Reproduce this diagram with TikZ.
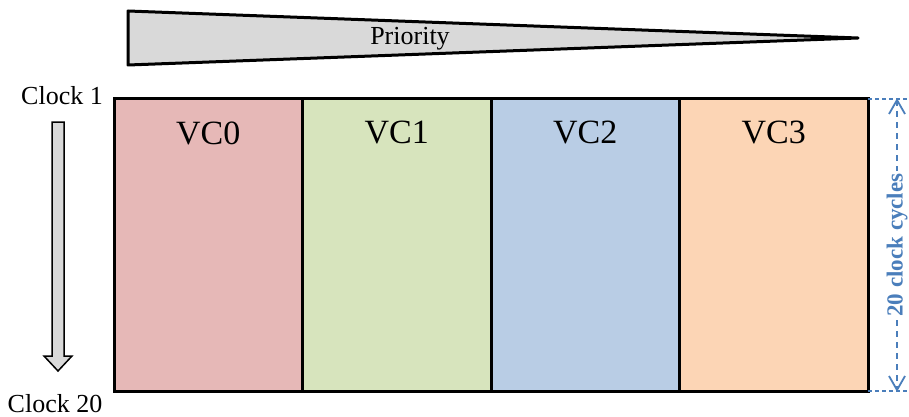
\documentclass[tikz,border=0pt]{standalone}
\usepackage{fontspec}
\setmainfont{Liberation Serif}

\definecolor{vcred}{HTML}{E6B8B7}
\definecolor{vcgreen}{HTML}{D7E4BD}
\definecolor{vcblue}{HTML}{B9CDE5}
\definecolor{vcorange}{HTML}{FCD5B5}
\definecolor{dimblue}{HTML}{4A7EBB}
\definecolor{lgray}{HTML}{D9D9D9}

\tikzset{
  vcbox/.style = {draw, line width=3pt, minimum width=188.5pt, minimum height=292pt,
                  inner sep=0pt, outer sep=0pt, anchor=north west},
  vclabel/.style = {font=\fontsize{34}{34}\selectfont},
  clk/.style = {font=\fontsize{26}{26}\selectfont},
  dimline/.style = {dimblue, line width=1.8pt},
}

\begin{document}
\begin{tikzpicture}[x=1pt, y=-1pt]
\useasboundingbox (0,0) rectangle (909,417);

% priority wedge
\draw[line width=3pt, fill=lgray, line join=round] (128,11) -- (858,38) -- (128,65) -- cycle;
\path (410,39) node[clk] (prio) {Priority};

% the four virtual channels
\path (114,99) node[vcbox, fill=vcred] (vc0) {};
\path (vc0.north east) node[vcbox, fill=vcgreen] (vc1) {};
\path (vc1.north east) node[vcbox, fill=vcblue] (vc2) {};
\path (vc2.north east) node[vcbox, fill=vcorange] (vc3) {};
\foreach \i in {0,...,3}
  \path (vc\i.north) ++(0,34) node[vclabel] {VC\i};

% clock axis
\path (62,96) node[clk] (c1) {Clock 1};
\path (55,404) node[clk] (c20) {Clock 20};
\draw[line width=1.5pt, fill=lgray, line join=miter]
  (52,122) -- (64,122) -- (64,356) -- (72,356) -- (58,371) -- (44,356) -- (52,356) -- cycle;

% cycle count
\coordinate (dtop) at (897,100);
\coordinate (dbot) at (897,390);
\draw[dimline, line width=1.2pt, dash pattern=on 4pt off 3pt] (vc3.north east) -- (909,99);
\draw[dimline, line width=1.2pt, dash pattern=on 4pt off 3pt] (vc3.south east) -- (909,391);
\draw[dimline, dash pattern=on 6pt off 5pt] (dtop) -- (dbot);
\draw[dimline, line join=miter] (dtop) ++(-8,14) -- (dtop) -- ++(8,14);
\draw[dimline, line join=miter] (dbot) ++(-8,-14) -- (dbot) -- ++(8,-14);
\path (dtop) -- (dbot) node[midway, rotate=90, fill=white, inner sep=2pt, text=dimblue,
  font=\bfseries\fontsize{23}{23}\selectfont] (cyc) {20 clock cycles};
\end{tikzpicture}
\end{document}
